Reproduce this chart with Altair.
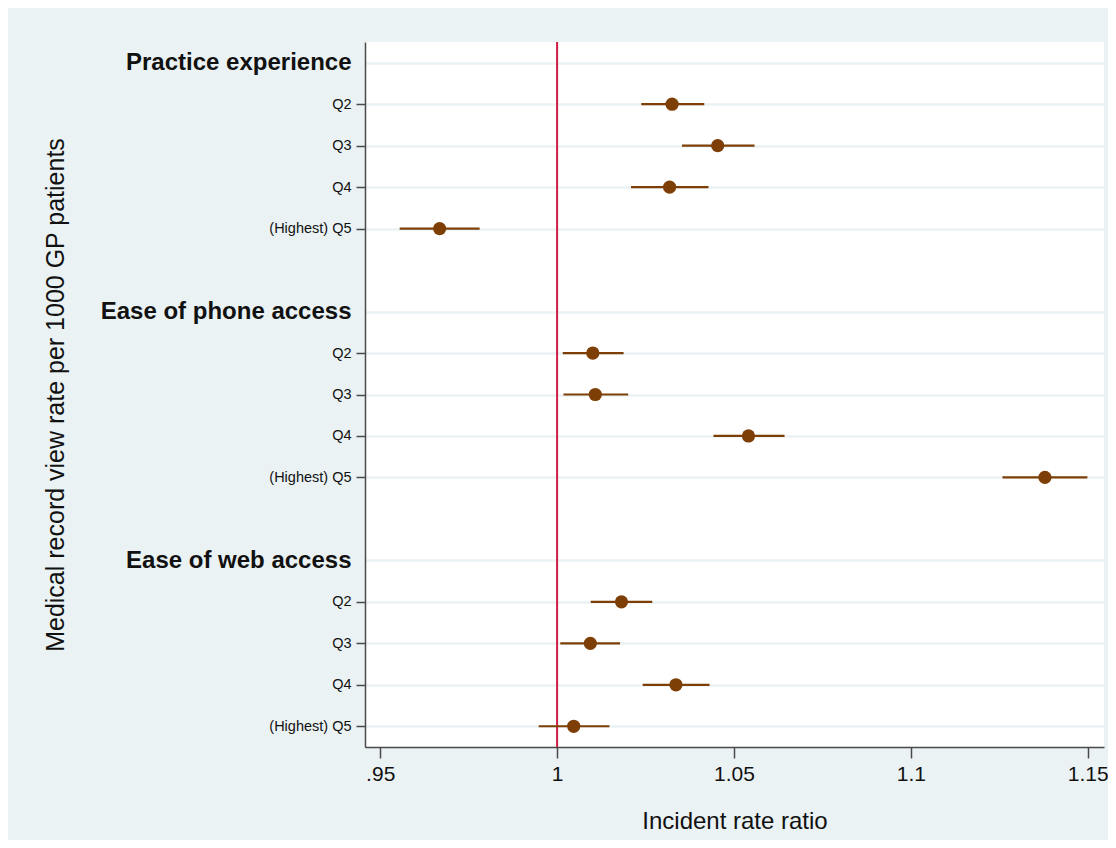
import altair as alt
import pandas as pd

# ---- data ----
groups = ["Practice experience", "Ease of phone access", "Ease of web access"]
quintiles = ["Q2", "Q3", "Q4", "(Highest) Q5"]

irr = [1.0325, 1.0454, 1.0318, 0.9668,
       1.0101, 1.0108, 1.0541, 1.1379,
       1.0182, 1.0094, 1.0336, 1.0047]
ci_lo = [1.0238, 1.0353, 1.0209, 0.9555,
         1.0016, 1.0018, 1.0442, 1.1259,
         1.0095, 1.0009, 1.0242, 0.9948]
ci_hi = [1.0416, 1.0558, 1.0428, 0.9781,
         1.0188, 1.0201, 1.0643, 1.1499,
         1.0269, 1.0178, 1.0431, 1.0148]

x_ticks = [0.95, 1.0, 1.05, 1.1, 1.15]
ref_value = [1.0]

# ---- build tables ----
rows = []
labels = {}
header_rows = []
for gi, g in enumerate(groups):
    base = gi * (len(quintiles) + 2)
    labels[base] = g
    header_rows.append(base)
    for k, q in enumerate(quintiles):
        pos = base + 1 + k
        labels[pos] = q
        i = gi * len(quintiles) + k
        rows.append({"group": g, "q": q, "pos": pos,
                     "irr": irr[i], "lo": ci_lo[i], "hi": ci_hi[i]})
df = pd.DataFrame(rows)
n_rows = max(labels) + 1
label_list = [labels.get(i, "") for i in range(n_rows)]
label_expr = "[" + ",".join("'" + s + "'" for s in label_list) + "][datum.value]"
hdr_test = " || ".join(f"datum.value == {h}" for h in header_rows)
tick_vals = sorted(labels.keys())

FONT = "Liberation Sans"
BROWN = "#7d3f06"
RED = "#d01c44"
BG = "#eaf2f3"
AXC = "#4a4a4a"

xscale = alt.Scale(domain=[0.9457, 1.1546], nice=False, zero=False)
yscale = alt.Scale(domain=[-0.5, n_rows - 0.5], reverse=True, nice=False, zero=False)

xaxis = alt.Axis(
    values=x_ticks,
    labelExpr="datum.value < 1 ? substring(format(datum.value, '.2f'), 1) : format(datum.value, '~g')",
    grid=False, domainColor=AXC, domainWidth=1.5, tickColor=AXC, tickWidth=1.5,
    tickSize=11, labelFontSize=21, labelFont=FONT, labelColor="#111",
    labelPadding=5, title="Incident rate ratio", titleFont=FONT,
    titleFontSize=24, titleFontWeight="normal", titleColor="#111",
    titlePadding=25,
)
yaxis = alt.Axis(
    values=tick_vals, labelExpr=label_expr,
    grid=True, gridColor=BG, gridWidth=2.5,
    domainColor=AXC, domainWidth=1.5,
    tickColor={"condition": {"test": hdr_test, "value": "transparent"}, "value": AXC},
    tickWidth=1.5, tickSize=9, labelPadding=5, labelLimit=400,
    labelFont=FONT, labelColor="#111",
    labelFontSize={"condition": {"test": hdr_test, "value": 24}, "value": 14.5},
    labelFontWeight={"condition": {"test": hdr_test, "value": "bold"}, "value": "normal"},
    title="Medical record view rate per 1000 GP patients",
    titleFont=FONT, titleFontSize=25, titleFontWeight="normal", titleColor="#111",
    titleX=-297, labelOverlap=False,
)

base = alt.Chart(df)

ci = base.mark_rule(color=BROWN, strokeWidth=2.2).encode(
    x=alt.X("lo:Q", scale=xscale, axis=xaxis),
    x2="hi:Q",
    y=alt.Y("pos:Q", scale=yscale, axis=yaxis),
)
pts = base.mark_circle(color=BROWN, size=175, opacity=1).encode(
    x=alt.X("irr:Q", scale=xscale),
    y=alt.Y("pos:Q", scale=yscale),
)
ref = alt.Chart(pd.DataFrame({"x": ref_value})).mark_rule(color=RED, strokeWidth=2).encode(
    x=alt.X("x:Q", scale=xscale),
)

chart = alt.layer(ref, ci, pts).properties(
    width=739, height=705,
    background=BG,
    padding={"left": 357, "top": 34, "right": 4, "bottom": 93},
    autosize=alt.AutoSizeParams(type="none"),
).configure_view(fill="white", stroke=None)

chart.save("out.html", embed_options={"renderer": "svg", "actions": False})
